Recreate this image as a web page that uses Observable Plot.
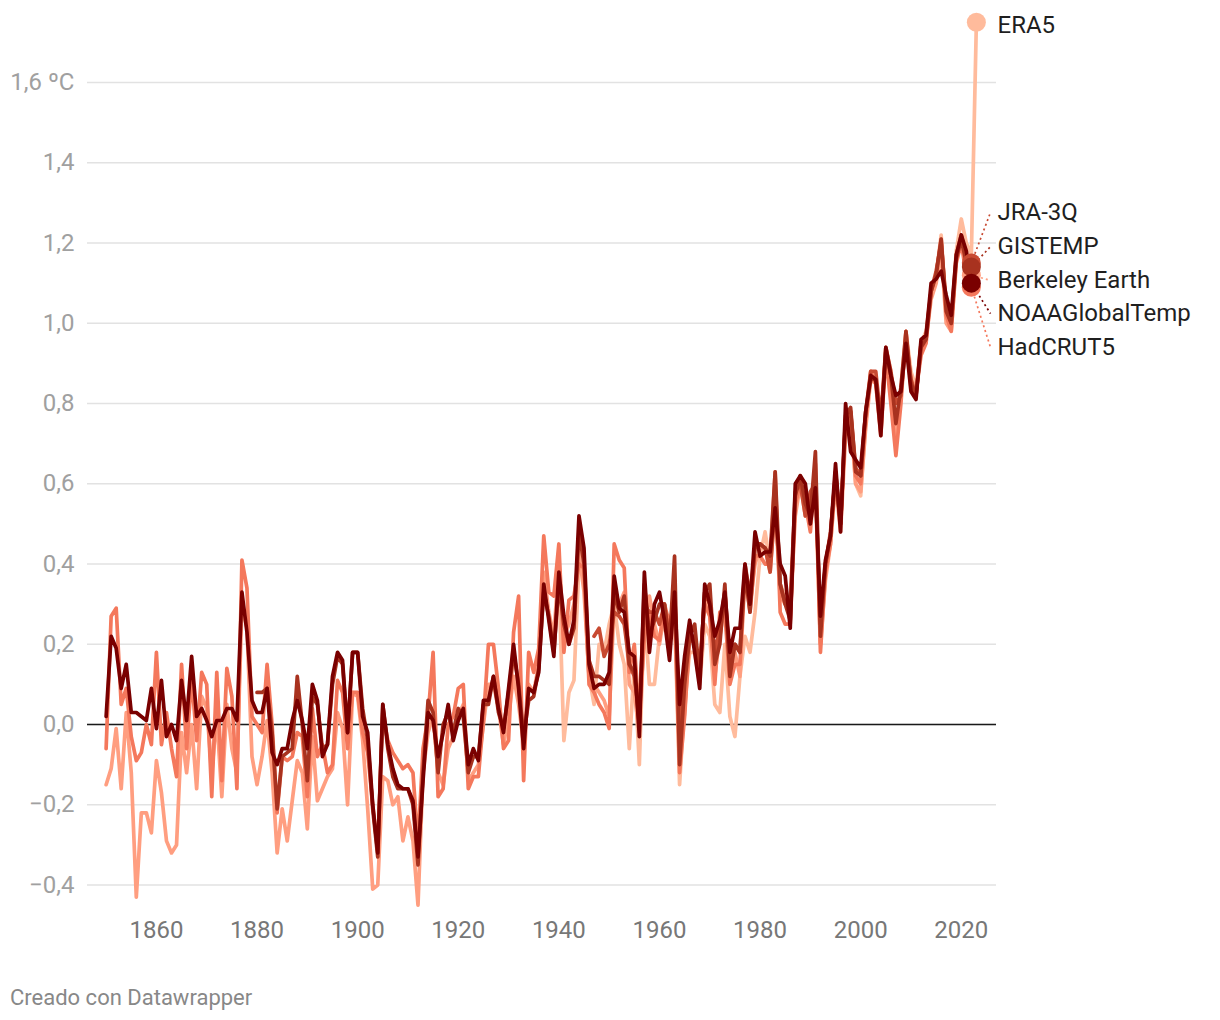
<!DOCTYPE html>
<html><head><meta charset="utf-8">
<script src="https://cdn.jsdelivr.net/npm/d3@7"></script>
<script src="https://cdn.jsdelivr.net/npm/@observablehq/plot@0.6"></script>
<style>
body{margin:0;background:#fff;font-family:Roboto,sans-serif;}
#chart svg{display:block;}
#footer{font-size:22px;line-height:24px;color:#888;padding:26px 0 0 10px;font-family:Roboto,sans-serif;}
</style></head><body>
<div id="chart"></div>
<div id="footer">Creado con Datawrapper</div>
<script>
// ---- data (anomalies in °C) ----
const noaaStart = 1850;
const noaa = [0.02,0.22,0.19,0.09,0.15,0.03,0.03,0.02,0.01,0.09,
 -0.01,0.11,-0.03,0.00,-0.04,0.11,0.01,0.17,0.02,0.04,
 0.01,-0.03,0.01,0.01,0.04,0.04,0.01,0.33,0.23,0.06,
 0.03,0.03,0.09,-0.07,-0.10,-0.06,-0.06,0.01,0.06,0.01,
 -0.06,0.10,0.06,-0.08,-0.05,0.12,0.18,0.16,-0.02,0.18,
 0.18,0.02,-0.02,-0.20,-0.32,0.05,-0.05,-0.11,-0.15,-0.16,
 -0.16,-0.19,-0.33,-0.14,0.03,0.01,-0.08,-0.02,0.05,-0.04,
 0.01,0.04,-0.10,-0.06,-0.09,0.06,0.06,0.12,0.04,-0.02,
 0.09,0.20,0.09,-0.06,0.09,0.08,0.13,0.35,0.26,0.17,
 0.38,0.27,0.20,0.26,0.52,0.44,0.15,0.09,0.10,0.10,
 0.13,0.37,0.29,0.28,0.18,0.17,-0.03,0.38,0.18,0.30,
 0.33,0.26,0.16,0.33,0.05,0.17,0.26,0.18,0.09,0.35,
 0.30,0.22,0.26,0.33,0.18,0.24,0.24,0.40,0.30,0.48,
 0.42,0.43,0.43,0.54,0.40,0.37,0.24,0.60,0.62,0.60,
 0.50,0.59,0.27,0.41,0.47,0.65,0.48,0.80,0.68,0.66,
 0.64,0.78,0.87,0.86,0.72,0.94,0.87,0.82,0.83,0.95,
 0.83,0.81,0.96,0.97,1.10,1.11,1.13,1.07,1.02,1.17,
 1.22,1.18,1.10];

const hadcrutStart = 1850;
const hadcrut = [-0.06,0.27,0.29,0.05,0.09,-0.03,-0.09,-0.07,0.00,-0.05,
 0.18,-0.05,0.03,-0.06,-0.13,0.15,-0.06,0.12,-0.04,0.13,
 0.10,-0.18,0.13,-0.14,0.14,0.07,-0.16,0.41,0.34,0.02,
 0.00,-0.02,0.15,0.00,-0.22,-0.08,-0.09,-0.08,-0.02,-0.03,
 -0.18,0.04,-0.08,-0.05,-0.12,-0.10,0.11,0.08,-0.06,0.08,
 0.08,-0.02,-0.07,-0.20,-0.31,0.03,-0.04,-0.07,-0.09,-0.11,
 -0.10,-0.12,-0.30,-0.06,0.02,0.18,-0.18,-0.16,0.00,0.02,
 0.09,0.10,-0.16,-0.13,-0.13,0.01,0.20,0.20,0.09,-0.06,
 -0.04,0.23,0.32,-0.14,0.18,0.13,0.19,0.47,0.33,0.32,
 0.45,0.18,0.31,0.32,0.40,0.39,0.10,0.08,0.05,0.03,
 -0.01,0.45,0.41,0.39,0.13,0.20,0.02,0.22,0.28,0.22,
 0.21,0.30,0.25,0.30,-0.12,0.02,0.22,0.20,0.15,0.30,
 0.27,0.10,0.28,0.28,0.10,0.15,0.15,0.38,0.28,0.42,
 0.42,0.40,0.40,0.63,0.28,0.25,0.25,0.55,0.60,0.55,
 0.48,0.65,0.18,0.38,0.45,0.62,0.50,0.75,0.78,0.62,
 0.60,0.76,0.88,0.85,0.72,0.92,0.80,0.67,0.80,0.98,
 0.84,0.83,0.92,0.95,1.08,1.12,1.21,1.02,0.98,1.15,
 1.20,1.12,1.09];

const berkeleyStart = 1850;
const berkeley = [-0.15,-0.11,-0.01,-0.16,0.03,-0.12,-0.43,-0.22,-0.22,-0.27,
 -0.09,-0.17,-0.29,-0.32,-0.30,-0.02,-0.12,0.00,-0.16,0.07,
 0.04,-0.12,0.02,-0.18,0.05,-0.06,-0.12,0.30,0.24,-0.08,
 -0.15,-0.08,0.01,-0.12,-0.32,-0.21,-0.29,-0.19,-0.09,-0.12,
 -0.26,-0.03,-0.19,-0.16,-0.13,-0.11,0.03,-0.01,-0.20,0.08,
 0.07,-0.04,-0.21,-0.41,-0.40,-0.13,-0.14,-0.20,-0.18,-0.29,
 -0.23,-0.29,-0.45,-0.12,-0.02,0.02,-0.12,-0.15,-0.06,-0.03,
 0.02,0.05,-0.14,-0.12,-0.10,0.00,0.10,0.10,0.04,-0.05,
 0.02,0.12,0.05,-0.05,0.10,0.08,0.15,0.38,0.28,0.22,
 0.40,0.22,0.25,0.30,0.43,0.33,0.12,0.10,0.08,0.06,
 0.02,0.30,0.30,0.33,0.10,0.08,-0.02,0.25,0.32,0.25,
 0.20,0.28,0.26,0.30,-0.08,0.03,0.22,0.20,0.12,0.32,
 0.28,0.12,0.22,0.30,0.12,0.18,0.12,0.38,0.30,0.40,
 0.44,0.44,0.38,0.55,0.32,0.30,0.28,0.52,0.60,0.52,
 0.55,0.60,0.20,0.36,0.45,0.60,0.48,0.72,0.76,0.60,
 0.58,0.74,0.86,0.85,0.73,0.92,0.85,0.72,0.82,0.96,
 0.86,0.84,0.93,0.96,1.06,1.10,1.18,1.00,0.98,1.16,
 1.21,1.14,1.12];

const gistempStart = 1880;
const gistemp = [0.08,0.08,0.09,-0.02,-0.21,-0.08,-0.07,-0.06,0.12,0.00,
 -0.14,0.07,0.05,-0.06,-0.05,0.10,0.17,0.15,-0.02,0.18,
 0.18,0.04,-0.04,-0.21,-0.33,0.05,-0.06,-0.13,-0.16,-0.16,
 -0.16,-0.20,-0.35,-0.12,0.06,0.03,-0.12,0.00,0.03,-0.02,
 0.04,0.02,-0.12,-0.08,-0.08,0.05,0.05,0.12,0.03,-0.01,
 0.08,0.18,0.10,-0.03,0.06,0.07,0.14,0.33,0.27,0.18,
 0.35,0.25,0.20,0.24,0.48,0.40,0.16,0.12,0.12,0.11,
 0.10,0.33,0.28,0.32,0.15,0.13,0.00,0.35,0.22,0.26,
 0.30,0.30,0.20,0.42,-0.10,0.10,0.22,0.25,0.12,0.33,
 0.35,0.15,0.20,0.35,0.12,0.20,0.18,0.38,0.28,0.45,
 0.45,0.44,0.42,0.63,0.35,0.30,0.26,0.57,0.62,0.55,
 0.52,0.68,0.22,0.40,0.47,0.63,0.50,0.77,0.79,0.63,
 0.62,0.78,0.86,0.86,0.75,0.93,0.87,0.75,0.84,0.98,
 0.85,0.82,0.94,0.96,1.08,1.12,1.21,1.03,1.00,1.16,
 1.21,1.15,1.14];

const jraStart = 1947;
const jra = [0.22,0.24,0.17,0.20,0.28,0.27,0.25,0.15,0.12,0.02,
 0.30,0.28,0.28,0.25,0.30,0.20,0.32,0.00,0.12,0.22,
 0.22,0.12,0.33,0.30,0.18,0.24,0.33,0.15,0.20,0.18,
 0.40,0.32,0.44,0.45,0.44,0.38,0.55,0.35,0.30,0.30,
 0.58,0.60,0.52,0.58,0.60,0.25,0.40,0.48,0.62,0.50,
 0.76,0.78,0.64,0.62,0.78,0.88,0.88,0.76,0.94,0.88,
 0.80,0.82,0.96,0.86,0.82,0.95,0.97,1.08,1.13,1.20,
 1.05,1.00,1.17,1.22,1.16,1.15];

const era5Start = 1940;
const era5 = [0.36,-0.04,0.08,0.11,0.40,0.38,0.12,0.05,0.20,0.18,
 0.25,0.30,0.20,0.15,-0.06,0.15,-0.10,0.28,0.10,0.10,
 0.22,0.25,0.22,0.28,-0.15,0.05,0.18,0.18,0.10,0.25,
 0.22,0.05,0.03,0.20,0.02,-0.03,0.12,0.22,0.18,0.28,
 0.42,0.48,0.40,0.55,0.35,0.32,0.30,0.55,0.62,0.55,
 0.55,0.60,0.20,0.40,0.47,0.63,0.50,0.76,0.78,0.60,
 0.57,0.75,0.88,0.86,0.75,0.94,0.88,0.74,0.84,0.98,
 0.88,0.84,0.95,0.98,1.08,1.12,1.22,1.03,1.00,1.18,
 1.26,1.20,1.17,1.75];

const seriesNames  = ["ERA5","Berkeley Earth","HadCRUT5","JRA-3Q","GISTEMP","NOAAGlobalTemp"];
const seriesColors = ["#ffbb9c","#ff9e80","#f4785c","#c84a32","#a8321f","#7a0000"];
const labelValues  = [1.742, 1.107, 0.94, 1.276, 1.191, 1.024]; // label heights (°C)
const yTicks = [-0.4,-0.2,0,0.2,0.4,0.6,0.8,1.0,1.2,1.4,1.6];
const xTicks = [1860,1880,1900,1920,1940,1960,1980,2000,2020];

// ---- build table ----
const sources = [
  [era5Start, era5], [berkeleyStart, berkeley], [hadcrutStart, hadcrut],
  [jraStart, jra], [gistempStart, gistemp], [noaaStart, noaa]
];
const rows = [];
const ends = [];
sources.forEach(([start, vals], i) => {
  vals.forEach((v, k) => rows.push({series: seriesNames[i], year: start + k, value: v}));
  ends.push({series: seriesNames[i], year: start + vals.length - 1, value: vals[vals.length - 1],
             color: seriesColors[i], label: labelValues[i]});
});
const leaders = ends.filter(d => d.series !== "ERA5");
const leaderEnd = 2025.8;
const labelX = 2027;

const fmt = d => (d < 0 ? "\u2212" : "") + Math.abs(d).toFixed(1).replace(".", ",") + (d === 1.6 ? " ºC" : "");

const marks = [
  Plot.gridY(yTicks, {stroke: "#e2e2e2", strokeOpacity: 1, strokeWidth: 1.6}),
  Plot.ruleY([0], {stroke: "#1a1a1a", strokeWidth: 1.6}),
  Plot.axisY(yTicks, {tickSize: 0, tickPadding: 13, tickFormat: fmt, fill: "#a0a0a0", fontSize: 24, label: null}),
  Plot.axisX(xTicks, {tickSize: 0, tickPadding: 16, tickFormat: d => String(d), fill: "#777", fontSize: 24, label: null}),
];
seriesNames.forEach((name, i) => {
  marks.push(Plot.line(rows.filter(r => r.series === name), {
    x: "year", y: "value", stroke: seriesColors[i], strokeWidth: 3.7,
    strokeLinejoin: "round", strokeLinecap: "round"
  }));
});
marks.push(
  Plot.link(leaders, {x1: "year", y1: "value", x2: () => leaderEnd, y2: "label",
    stroke: "color", strokeWidth: 1.7, strokeDasharray: "2,3"}),
  Plot.dot(ends, {x: "year", y: "value", r: 9.5, fill: "color", stroke: "none"}),
  Plot.text(ends, {x: () => labelX, y: "label", text: "series", textAnchor: "start", dx: 1,
    fill: "#1f1f1f", fontSize: 24})
);

const chart = Plot.plot({
  width: 1220, height: 960,
  marginLeft: 87, marginRight: 224, marginTop: 9.8, marginBottom: 55.4,
  style: {fontFamily: "Roboto, sans-serif", fontSize: "24px", background: "#fff"},
  x: {domain: [1846.3, 2027]},
  y: {domain: [-0.45, 1.78]},
  color: {type: "identity"},
  marks
});
document.getElementById("chart").appendChild(chart);
</script>
</body></html>
